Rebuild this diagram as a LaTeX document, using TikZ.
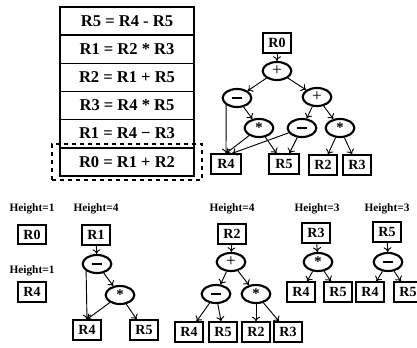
\documentclass[tikz,border=0pt]{standalone}
\usepackage{fontspec}
\setmainfont{Liberation Serif}
\usetikzlibrary{shapes.geometric,arrows.meta}
\newcommand{\opminus}{\rule[0pt]{7.5pt}{1.8pt}}
\newcommand{\opplus}{{\fontsize{13}{14}\selectfont\mdseries +}}
\newcommand{\optimes}{{\fontsize{11}{12}\selectfont\bfseries *}}
\begin{document}
\begin{tikzpicture}[x=0.75pt,y=-0.75pt,
  font=\bfseries,
  row/.style={draw,line width=1.3pt,minimum width=100.5pt,minimum height=21pt,inner sep=0pt,font=\bfseries\fontsize{12.4}{14}\selectfont},
  reg/.style={draw,line width=1.5pt,minimum width=21pt,minimum height=14.5pt,inner sep=0pt,font=\bfseries\fontsize{10.5}{12}\selectfont},
  op/.style={ellipse,draw,line width=1.6pt,minimum width=21.5pt,minimum height=13.5pt,inner sep=0pt},
  hl/.style={font=\bfseries\fontsize{8.5}{10}\selectfont,inner sep=0pt},
  arr/.style={line width=0.7pt,-{To[length=3.5pt,width=6pt]}}]
\useasboundingbox (0,0) rectangle (417,347);
% instruction table
\node[row] (t1) at (127,21.3) {R5 = R4 - R5};
\node[row] (t2) at (127,49.4) {R1 = R2 * R3};
\node[row] (t3) at (127,77.5) {R2 = R1 + R5};
\node[row] (t4) at (127,105.5) {R3 = R4 * R5};
\node[row] (t5) at (127,133.6) {R1 = R4 − R3};
\node[row] (t6) at (127,161.7) {R0 = R1 + R2};
\node[draw,dashed,line width=1.3pt,minimum width=112.5pt,minimum height=27pt,inner sep=0pt] (sel) at (126.7,162) {};
% full DAG
\node[reg] (R0) at (277,43) {R0};
\node[op] (pT) at (277,71) {\opplus};
\node[op] (mL) at (237,98) {\opminus};
\node[op] (pR) at (317,97) {\opplus};
\node[op] (s1) at (259,128) {\optimes};
\node[op] (mM) at (302,128) {\opminus};
\node[op] (s2) at (340,128) {\optimes};
\node[reg,minimum width=22.5pt] (R4) at (226,164) {R4};
\node[reg,minimum width=22.5pt] (R5) at (284,164) {R5};
\node[reg] (R2) at (323,165) {R2};
\node[reg] (R3) at (357,165) {R3};
\draw[arr] (R0) -- (pT);
\draw[arr] (pT) -- (mL);
\draw[arr] (pT) -- (pR);
\draw[arr] (mL.south west) -- (R4.north);
\draw[arr] (mL) -- (s1);
\draw[arr] (s1) -- (R4.north);
\draw[arr] (s1) -- (R5);
\draw[arr] (mM) -- (R4.60);
\draw[arr] (mM) -- (R5);
\draw[arr] (pR) -- (mM);
\draw[arr] (pR) -- (s2);
\draw[arr] (s2) -- (R2);
\draw[arr] (s2) -- (R3);
% bottom: heights
\node[hl] (h1) at (32,209) {Height=1};
\node[reg] (bR0) at (32,234.5) {R0};
\node[hl] (h2) at (32,271) {Height=1};
\node[reg] (bR4) at (32,292) {R4};
% R1 tree
\node[hl] (h3) at (96,209) {Height=4};
\node[reg] (aR1) at (96,235) {R1};
\node[op] (am) at (97,264) {\opminus};
\node[op] (as) at (120,295) {\optimes};
\node[reg] (aR4) at (87,330) {R4};
\node[reg] (aR5) at (144,330) {R5};
\draw[arr] (aR1) -- (am);
\draw[arr] (am.south west) -- (aR4.north);
\draw[arr] (am) -- (as);
\draw[arr] (as) -- (aR4.north);
\draw[arr] (as) -- (aR5);
% R2 tree
\node[hl] (h4) at (232,209) {Height=4};
\node[reg] (cR2) at (232,234) {R2};
\node[op] (cp) at (231,262) {\opplus};
\node[op] (cm) at (216,294) {\opminus};
\node[op] (cs) at (256,294) {\optimes};
\node[reg] (cR4) at (189,332) {R4};
\node[reg] (cR5) at (223,332) {R5};
\node[reg] (cR2b) at (256,332) {R2};
\node[reg] (cR3) at (288,332) {R3};
\draw[arr] (cR2) -- (cp);
\draw[arr] (cp) -- (cm);
\draw[arr] (cp) -- (cs);
\draw[arr] (cm) -- (cR4);
\draw[arr] (cm) -- (cR5);
\draw[arr] (cs) -- (cR2b);
\draw[arr] (cs) -- (cR3);
% R3 tree
\node[hl] (h5) at (317,209) {Height=3};
\node[reg] (dR3) at (316,233) {R3};
\node[op] (ds) at (318,262) {\optimes};
\node[reg] (dR4) at (301,292) {R4};
\node[reg] (dR5) at (338,292) {R5};
\draw[arr] (dR3) -- (ds);
\draw[arr] (ds) -- (dR4);
\draw[arr] (ds) -- (dR5);
% R5 tree
\node[hl] (h6) at (387,209) {Height=3};
\node[reg] (eR5) at (387,232) {R5};
\node[op] (em) at (388,262) {\opminus};
\node[reg] (eR4) at (370,292) {R4};
\node[reg] (eR5b) at (408,292) {R5};
\draw[arr] (eR5) -- (em);
\draw[arr] (em) -- (eR4);
\draw[arr] (em) -- (eR5b);
\end{tikzpicture}
\end{document}
